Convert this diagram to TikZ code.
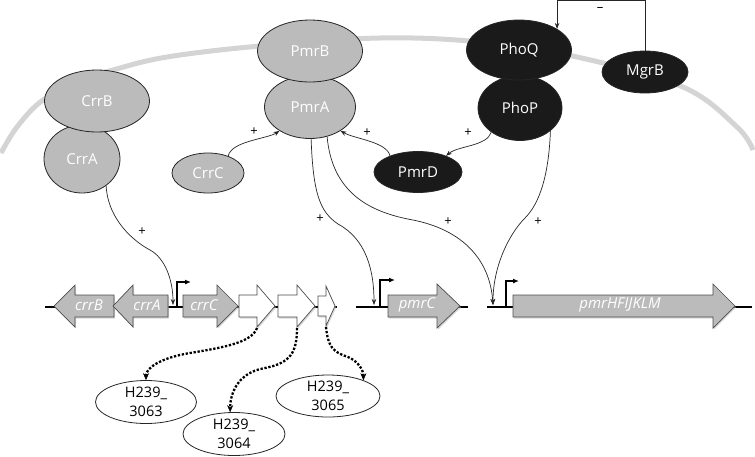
\documentclass[tikz,border=0pt]{standalone}
\usepackage{fontspec}
\setmainfont{Open Sans}
\usetikzlibrary{shapes.geometric,arrows.meta,shadows}
\definecolor{pgray}{HTML}{BBBBBB}
\definecolor{pblack}{HTML}{1A1A1A}
\definecolor{memb}{HTML}{D4D4D4}
\begin{document}
\begin{tikzpicture}[x=1pt,y=-1pt,
 prot/.style={ellipse,draw=black!85,line width=0.8pt,inner sep=0pt,text=white,font=\fontsize{15}{16}\selectfont},
 gp/.style={prot,fill=pgray},
 bp/.style={prot,fill=pblack},
 hyp/.style={ellipse,draw=black!85,fill=white,line width=0.8pt,inner sep=0pt,align=center,font=\fontsize{14.5}{19}\selectfont},
 conn/.style={line width=0.7pt,draw=black!85,-{Stealth[length=6pt,width=4.5pt]}},
 sign/.style={font=\fontsize{13}{13}\selectfont},
 dna/.style={line width=2pt},
 prom/.style={line width=1.3pt,-{Latex[length=6pt,width=5pt]}},
 gene/.style={draw=black!70,line width=0.7pt,fill=pgray,drop shadow={shadow xshift=1.2pt,shadow yshift=-1.5pt,fill=black!30}},
 wgene/.style={gene,fill=white},
 glab/.style={text=white,font=\itshape\fontsize{15}{15}\selectfont},
 dots/.style={line width=2.3pt,dash pattern=on 2.3pt off 1.7pt,-{Stealth[length=7pt,width=6pt,line width=0.5pt]}}
]
\useasboundingbox (0,0) rectangle (755,456);
% membrane
\draw[memb,line width=5pt] plot[smooth,tension=0.6] coordinates {(1,153) (17,127) (43,100) (83,80) (113,70) (167,57) (260,46) (380,38) (480,42) (577,57) (683,87) (737,127) (753,150)};
% proteins
\node[gp,minimum width=76,minimum height=68] (CrrA) at (82,159) {CrrA};
\node[gp,minimum width=105,minimum height=62] (CrrB) at (97,101) {CrrB};
\node[gp,minimum width=72,minimum height=40] (CrrC) at (208,173) {CrrC};
\node[gp,minimum width=91,minimum height=63] (PmrA) at (310,107) {PmrA};
\node[gp,minimum width=105,minimum height=62] (PmrB) at (310,51) {PmrB};
\node[bp,minimum width=84,minimum height=65] (PhoP) at (520,108) {PhoP};
\node[bp,minimum width=105,minimum height=60] (PhoQ) at (519,50) {PhoQ};
\node[bp,minimum width=86,minimum height=42] (MgrB) at (645,72) {MgrB};
\node[bp,minimum width=88,minimum height=41] (PmrD) at (418,172) {PmrD};
% DNA
\draw[dna] (45,307) -- (337,307);
\draw[dna] (356,307) -- (468,307);
\draw[dna] (487,307) -- (752,307);
% promoters
\draw[prom] (177,307) -- (177,282) -- (191,282);
\draw[prom] (380,307) -- (380,280) -- (395,280);
\draw[prom] (506,307) -- (506,281) -- (519,281);
\coordinate (pcrr) at (173,305);
\coordinate (pmid) at (374,305);
\coordinate (prgt) at (493,305);
% genes
\draw[gene] (54,306) -- (75,285) -- (75,295) -- (114,295) -- (114,317) -- (75,317) -- (75,327) -- cycle;
\node[glab] (gcrrB) at (89,305) {crrB};
\draw[gene] (113,306) -- (133,285) -- (133,295) -- (168,295) -- (168,317) -- (133,317) -- (133,327) -- cycle;
\node[glab] (gcrrA) at (147,305) {crrA};
\draw[gene] (183,295) -- (217,295) -- (217,285) -- (238,306) -- (217,327) -- (217,317) -- (183,317) -- cycle;
\node[glab] (gcrrC) at (204,305) {crrC};
\draw[wgene] (239,295) -- (257,295) -- (257,285) -- (275,306) -- (257,327) -- (257,317) -- (239,317) -- cycle;
\draw[wgene] (278,295) -- (297,295) -- (297,285) -- (315,306) -- (297,327) -- (297,317) -- (278,317) -- cycle;
\draw[wgene] (318,296) -- (326,296) -- (326,286) -- (335,306) -- (326,326) -- (326,316) -- (318,316) -- cycle;
\coordinate (w1) at (257,328);
\coordinate (w2) at (297,328);
\coordinate (w3) at (326,327);
\draw[gene] (388,295) -- (437,295) -- (437,284) -- (460,306) -- (437,328) -- (437,317) -- (388,317) -- cycle;
\node[glab] (gpmrC) at (417,305) {pmrC};
\draw[gene] (513,295) -- (713,295) -- (713,284) -- (735,306) -- (713,328) -- (713,317) -- (513,317) -- cycle;
\node[glab] (gpmrH) at (620,305) {pmrHFIJKLM};
% hypothetical proteins
\node[hyp,minimum width=101,minimum height=43] (H1) at (146,402) {H239\_\\3063};
\node[hyp,minimum width=102,minimum height=43] (H2) at (234,434) {H239\_\\3064};
\node[hyp,minimum width=104,minimum height=42] (H3) at (328,396) {H239\_\\3065};
% regulatory connectors
\draw[conn] (CrrA.-48) .. controls +(2,35) and +(-15,-8) .. (150,250) .. controls +(15,8) and +(0,-25) .. (pcrr);
\node[sign] at (142,232) {+};
\draw[conn] (CrrC.40) .. controls +(3,-15) and +(-12,8) .. (PmrA.-142);
\node[sign] at (254,132) {+};
\draw[conn] (PmrD.150) .. controls +(-3,-14) and +(14,8) .. (PmrA.-38);
\node[sign] at (367,133) {+};
\draw[conn] (PhoP.-140) .. controls +(-4,14) and +(12,-10) .. (PmrD.30);
\node[sign] at (468,133) {+};
\draw[conn] (MgrB.north) -- ++(0,-50) -| (PhoQ.29);
\node[sign] at (600,10) {–};
\draw[conn] (PmrA.-88) .. controls +(2,55) and +(-18,-12) .. (338,224) .. controls +(28,15) and +(0,-35) .. (pmid);
\node[sign] at (320,219) {+};
\draw[conn] (PmrA.-60) .. controls +(5,55) and +(-45,-8) .. (413,220) .. controls +(50,10) and +(-3,-45) .. (prgt);
\node[sign] at (448,222) {+};
\draw[conn] (PhoP.-37) .. controls +(-2,55) and +(10,-10) .. (525,218) .. controls +(-15,15) and +(0,-40) .. (prgt);
\node[sign] at (538,222) {+};
% dotted links
\draw[dots] (w1) .. controls +(-5,15) and +(30,-5) .. (190,353) .. controls +(-30,5) and +(0,-12) .. (H1.north);
\draw[dots] (w2) .. controls +(0,25) and +(25,-5) .. (265,368) .. controls +(-30,5) and +(0,-15) .. (H2.100);
\draw[dots] (w3) .. controls +(2,20) and +(-15,-5) .. (348,357) .. controls +(10,4) and +(0,-10) .. (H3.24);
\end{tikzpicture}
\end{document}
